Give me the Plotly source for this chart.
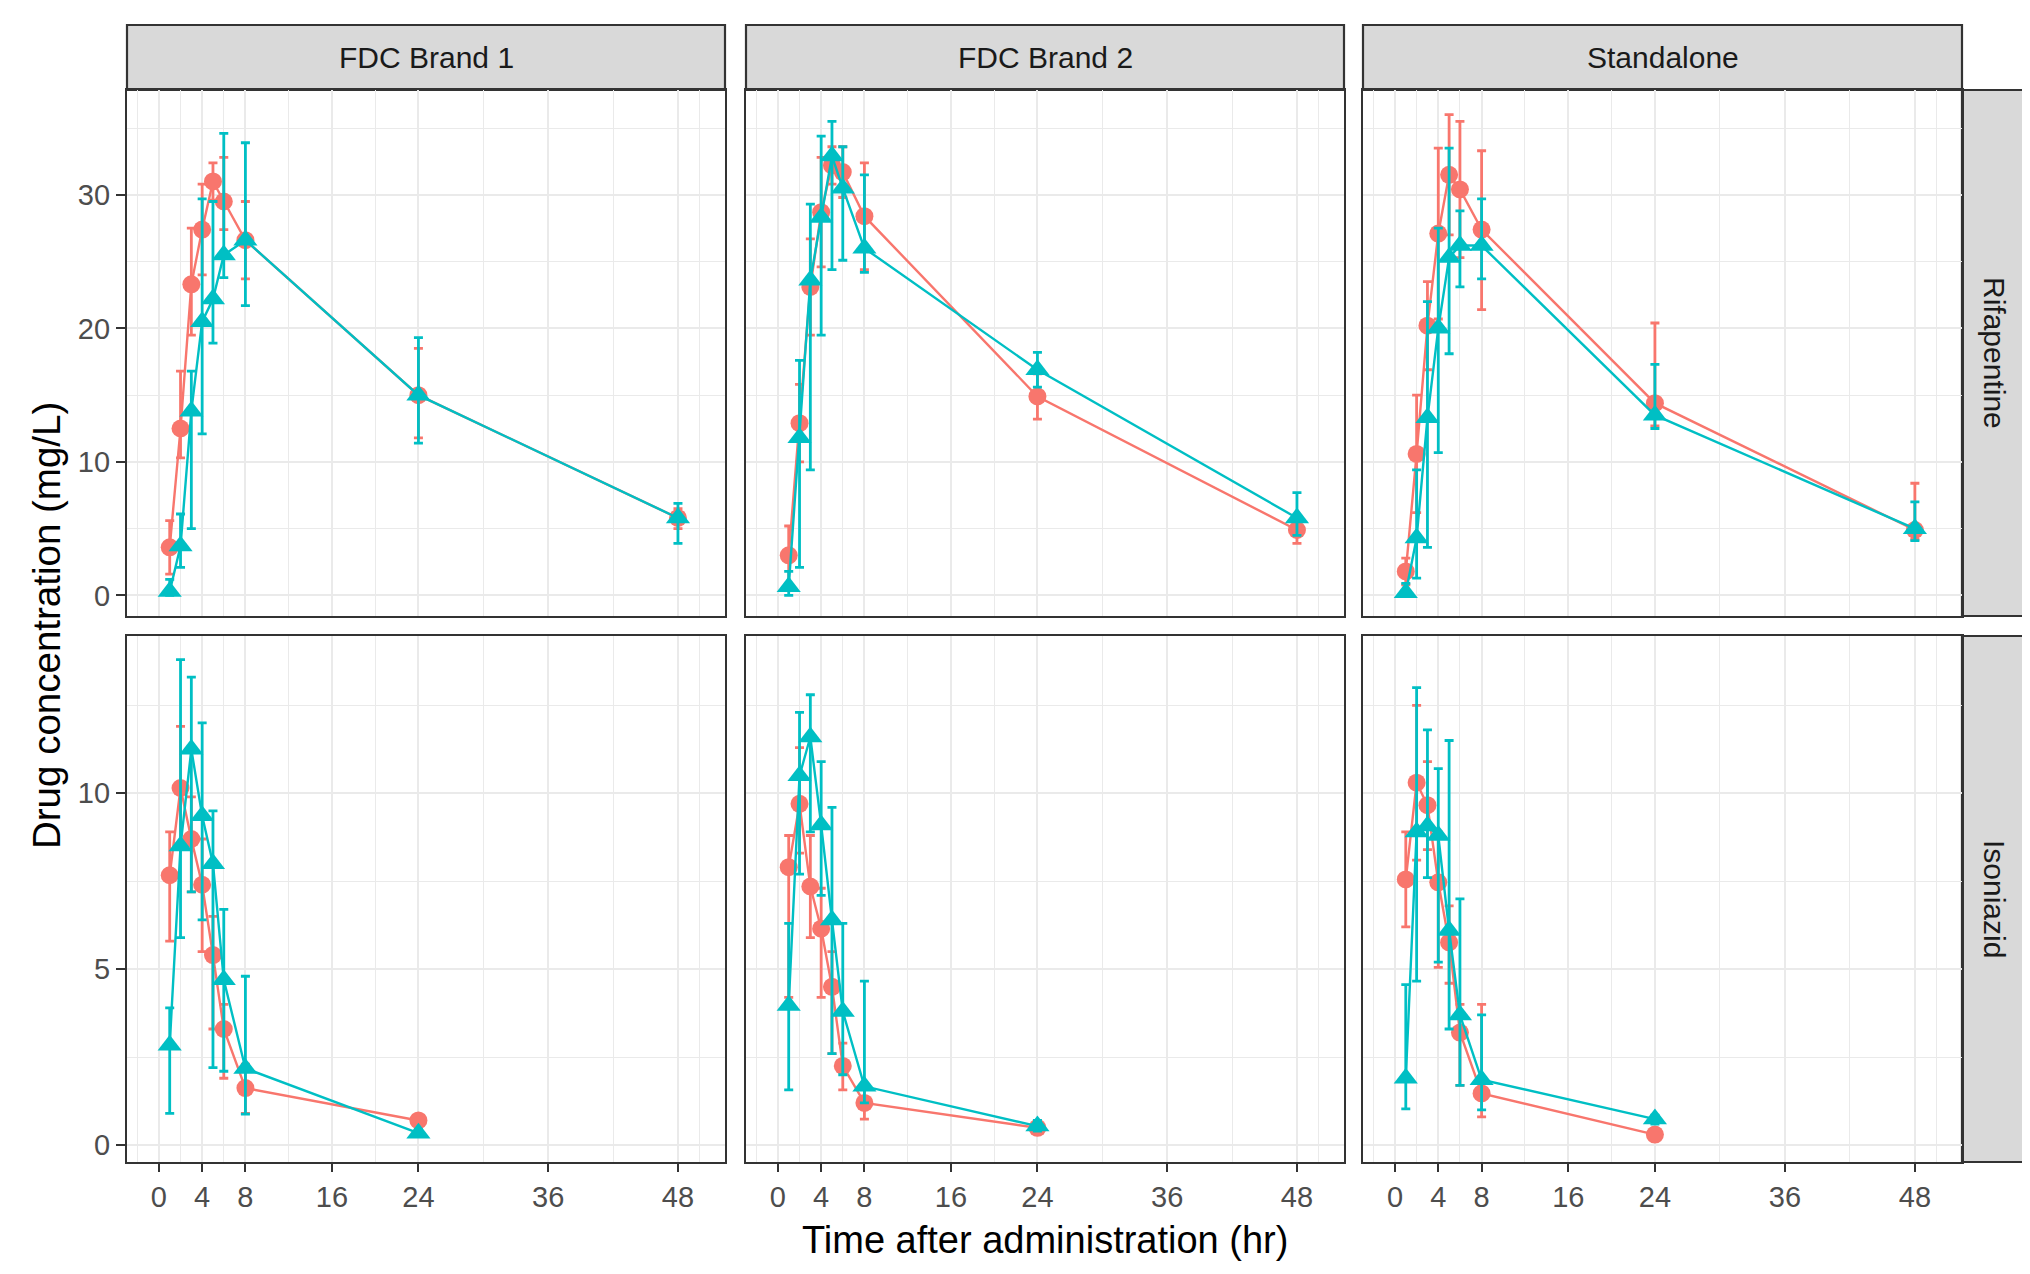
import plotly.graph_objects as go

# ---------------- data ----------------
columns = ["FDC Brand 1", "FDC Brand 2", "Standalone"]
rows = ["Rifapentine", "Isoniazid"]
times_rif = [1, 2, 3, 4, 5, 6, 8, 24, 48]
times_inh = [1, 2, 3, 4, 5, 6, 8, 24]
x_ticks = [0, 4, 8, 16, 24, 36, 48]
x_minor = [-2, 2, 6, 12, 20, 30, 42, 50]
y_ticks_rif = [0, 10, 20, 30]
y_minor_rif = [5, 15, 25, 35]
y_ticks_inh = [0, 5, 10]
y_minor_inh = [2.5, 7.5, 12.5]

# Rifapentine - FDC Brand 1
rif1_red = [3.6, 12.5, 23.3, 27.4, 31.0, 29.5, 26.6, 15.0, 5.8]
rif1_red_hi = [5.6, 16.8, 27.5, 30.8, 32.4, 32.8, 29.5, 18.5, 6.5]
rif1_red_lo = [1.6, 10.3, 19.5, 24.0, 29.6, 27.4, 23.7, 11.8, 5.0]
rif1_teal = [0.3, 3.7, 13.8, 20.5, 22.2, 25.5, 26.6, 15.0, 5.8]
rif1_teal_hi = [1.2, 6.1, 16.8, 29.7, 29.5, 34.6, 33.9, 19.3, 6.9]
rif1_teal_lo = [0.0, 2.1, 5.0, 12.1, 18.9, 23.8, 21.7, 11.4, 3.9]
# Rifapentine - FDC Brand 2
rif2_red = [3.0, 12.9, 23.1, 28.7, 32.2, 31.7, 28.4, 14.9, 4.9]
rif2_red_hi = [5.2, 15.8, 26.7, 32.8, 33.6, 33.6, 32.4, 16.6, 5.9]
rif2_red_lo = [0.8, 10.0, 19.5, 24.6, 30.8, 29.8, 24.4, 13.2, 3.9]
rif2_teal = [0.65, 11.8, 23.6, 28.3, 32.9, 30.5, 26.0, 16.9, 5.8]
rif2_teal_hi = [1.8, 17.6, 29.3, 34.4, 35.5, 33.6, 31.5, 18.2, 7.7]
rif2_teal_lo = [0.0, 2.1, 9.4, 19.5, 24.4, 25.1, 24.2, 15.6, 4.5]
# Rifapentine - Standalone
rif3_red = [1.8, 10.6, 20.2, 27.1, 31.5, 30.4, 27.4, 14.4, 4.9]
rif3_red_hi = [2.8, 15.0, 23.5, 33.5, 36.0, 35.5, 33.3, 20.4, 8.4]
rif3_red_lo = [0.8, 6.2, 16.9, 20.7, 27.0, 25.3, 21.4, 12.7, 4.2]
rif3_teal = [0.2, 4.3, 13.3, 20.0, 25.3, 26.2, 26.2, 13.5, 5.0]
rif3_teal_hi = [0.9, 9.4, 22.0, 27.5, 33.5, 28.8, 29.7, 17.3, 7.0]
rif3_teal_lo = [0.0, 1.3, 3.6, 10.7, 18.1, 23.1, 23.7, 12.5, 4.1]

# Isoniazid - FDC Brand 1
inh1_red = [7.67, 10.15, 8.7, 7.4, 5.4, 3.3, 1.62, 0.7]
inh1_red_hi = [8.9, 11.9, 9.9, 8.7, 6.5, 4.0, 2.3, 0.8]
inh1_red_lo = [5.8, 8.4, 7.2, 5.5, 3.3, 1.9, 0.9, 0.6]
inh1_teal = [2.84, 8.5, 11.25, 9.36, 8.0, 4.7, 2.18, 0.34]
inh1_teal_hi = [3.9, 13.8, 13.3, 12.0, 9.5, 6.7, 4.8, 0.45]
inh1_teal_lo = [0.9, 5.9, 7.2, 6.4, 2.2, 2.1, 0.88, 0.25]
# Isoniazid - FDC Brand 2
inh2_red = [7.9, 9.7, 7.35, 6.15, 4.5, 2.25, 1.2, 0.49]
inh2_red_hi = [8.8, 11.3, 8.8, 7.3, 5.5, 2.9, 1.6, 0.55]
inh2_red_lo = [4.2, 8.3, 5.9, 4.2, 2.6, 1.57, 0.74, 0.43]
inh2_teal = [3.97, 10.5, 11.6, 9.1, 6.4, 3.8, 1.67, 0.54]
inh2_teal_hi = [6.3, 12.3, 12.8, 10.9, 9.6, 6.3, 4.66, 0.7]
inh2_teal_lo = [1.57, 7.7, 8.9, 7.1, 2.6, 2.0, 1.2, 0.4]
# Isoniazid - Standalone
inh3_red = [7.55, 10.3, 9.66, 7.47, 5.76, 3.2, 1.47, 0.3]
inh3_red_hi = [8.9, 12.5, 10.9, 8.9, 6.8, 4.0, 4.0, 0.35]
inh3_red_lo = [6.2, 8.1, 8.4, 5.05, 4.6, 1.7, 0.8, 0.25]
inh3_teal = [1.9, 8.9, 9.07, 8.8, 6.1, 3.7, 1.86, 0.74]
inh3_teal_hi = [4.56, 13.0, 11.8, 10.7, 11.5, 7.0, 3.7, 0.85]
inh3_teal_lo = [1.03, 4.66, 7.6, 5.2, 3.3, 1.7, 1.0, 0.6]

panels = [
    [(rif1_red, rif1_red_hi, rif1_red_lo, rif1_teal, rif1_teal_hi, rif1_teal_lo),
     (rif2_red, rif2_red_hi, rif2_red_lo, rif2_teal, rif2_teal_hi, rif2_teal_lo),
     (rif3_red, rif3_red_hi, rif3_red_lo, rif3_teal, rif3_teal_hi, rif3_teal_lo)],
    [(inh1_red, inh1_red_hi, inh1_red_lo, inh1_teal, inh1_teal_hi, inh1_teal_lo),
     (inh2_red, inh2_red_hi, inh2_red_lo, inh2_teal, inh2_teal_hi, inh2_teal_lo),
     (inh3_red, inh3_red_hi, inh3_red_lo, inh3_teal, inh3_teal_hi, inh3_teal_lo)],
]

# ---------------- layout geometry ----------------
W, H = 2030, 1274
col_px = [(119, 717), (738, 1336), (1355, 1954)]
row_px = [(82, 608), (628, 1154)]
top_strip_px = (17, 82)
right_strip_px = (1954, 2020)
x_range = [-2.95, 52.35]
y_ranges = [[-1.54, 37.85], [-0.48, 14.47]]

RED = "#F8766D"
TEAL = "#00BFC4"
GRID = "#EAEAEA"
DARK = "#333333"
FONT = "Liberation Sans, Arial, sans-serif"
TICK_FONT = dict(family=FONT, size=29, color="#4D4D4D")


def fx(px):
    return px / W


def fy(py):
    return 1 - py / H


fig = go.Figure()
layout = dict(
    width=W, height=H, margin=dict(l=0, r=0, t=0, b=0),
    paper_bgcolor="white", plot_bgcolor="white", showlegend=False,
    font=dict(family=FONT),
)
shapes = []
annotations = []

for r in range(2):
    times = times_rif if r == 0 else times_inh
    for c in range(3):
        idx = r * 3 + c + 1
        xa = "x" if idx == 1 else f"x{idx}"
        ya = "y" if idx == 1 else f"y{idx}"
        red, red_hi, red_lo, teal, teal_hi, teal_lo = panels[r][c]
        for vals, hi, lo, color, sym, size in [
            (red, red_hi, red_lo, RED, "circle", 18),
            (teal, teal_hi, teal_lo, TEAL, "triangle-up", 21),
        ]:
            fig.add_trace(go.Scatter(
                x=times, y=vals, xaxis=xa, yaxis=ya, mode="lines+markers",
                line=dict(color=color, width=2.4),
                marker=dict(color=color, size=size, symbol=sym, line=dict(width=0)),
                error_y=dict(type="data", symmetric=False,
                             array=[h - v for h, v in zip(hi, vals)],
                             arrayminus=[v - l for v, l in zip(vals, lo)],
                             color=color, thickness=2.8, width=4.5),
                hoverinfo="x+y",
            ))
        x0, x1 = col_px[c]
        y0, y1 = row_px[r]
        xaxis = dict(
            domain=[fx(x0), fx(x1)], range=x_range, anchor=ya,
            tickvals=x_ticks, showgrid=True, gridcolor=GRID, gridwidth=1.8,
            minor=dict(tickvals=x_minor, showgrid=True, gridcolor=GRID, gridwidth=1.2, ticks=""),
            zeroline=False, showline=True, mirror=True, linecolor=DARK, linewidth=2.2,
            ticks="outside" if r == 1 else "", ticklen=8, tickwidth=2, tickcolor=DARK,
            showticklabels=(r == 1), tickfont=TICK_FONT,
        )
        yticks = y_ticks_rif if r == 0 else y_ticks_inh
        yminor = y_minor_rif if r == 0 else y_minor_inh
        yaxis = dict(
            domain=[fy(y1), fy(y0)], range=y_ranges[r], anchor=xa,
            tickvals=yticks, showgrid=True, gridcolor=GRID, gridwidth=1.8,
            minor=dict(tickvals=yminor, showgrid=True, gridcolor=GRID, gridwidth=1.2, ticks=""),
            zeroline=False, showline=True, mirror=True, linecolor=DARK, linewidth=2.2,
            ticks="outside" if c == 0 else "", ticklen=9, tickwidth=2, tickcolor=DARK,
            showticklabels=(c == 0), tickfont=TICK_FONT,
        )
        layout["xaxis" if idx == 1 else f"xaxis{idx}"] = xaxis
        layout["yaxis" if idx == 1 else f"yaxis{idx}"] = yaxis

# top strips
for c, name in enumerate(columns):
    x0, x1 = col_px[c]
    shapes.append(dict(type="rect", xref="paper", yref="paper",
                       x0=fx(x0), x1=fx(x1), y0=fy(top_strip_px[1]), y1=fy(top_strip_px[0]),
                       fillcolor="#D9D9D9", line=dict(color=DARK, width=2.2), layer="below"))
    annotations.append(dict(text=name, xref="paper", yref="paper",
                            x=fx((x0 + x1) / 2), y=fy(sum(top_strip_px) / 2),
                            showarrow=False, xanchor="center", yanchor="middle",
                            font=dict(family=FONT, size=30, color="#1A1A1A")))
# right strips
for r, name in enumerate(rows):
    y0, y1 = row_px[r]
    shapes.append(dict(type="rect", xref="paper", yref="paper",
                       x0=fx(right_strip_px[0]), x1=fx(right_strip_px[1]), y0=fy(y1), y1=fy(y0),
                       fillcolor="#D9D9D9", line=dict(color=DARK, width=2.2), layer="below"))
    annotations.append(dict(text=name, xref="paper", yref="paper",
                            x=fx(sum(right_strip_px) / 2), y=fy((y0 + y1) / 2),
                            showarrow=False, textangle=90, xanchor="center", yanchor="middle",
                            font=dict(family=FONT, size=30, color="#1A1A1A")))

# axis titles
annotations.append(dict(text="Time after administration (hr)", xref="paper", yref="paper",
                        x=fx((col_px[0][0] + col_px[2][1]) / 2), y=fy(1232),
                        showarrow=False, xanchor="center", yanchor="middle",
                        font=dict(family=FONT, size=38, color="black")))
annotations.append(dict(text="Drug concentration (mg/L)", xref="paper", yref="paper",
                        x=fx(38), y=fy((row_px[0][0] + row_px[1][1]) / 2),
                        showarrow=False, textangle=-90, xanchor="center", yanchor="middle",
                        font=dict(family=FONT, size=38.5, color="black")))

layout["shapes"] = shapes
layout["annotations"] = annotations
fig.update_layout(**layout)
fig.write_html("out.html")
